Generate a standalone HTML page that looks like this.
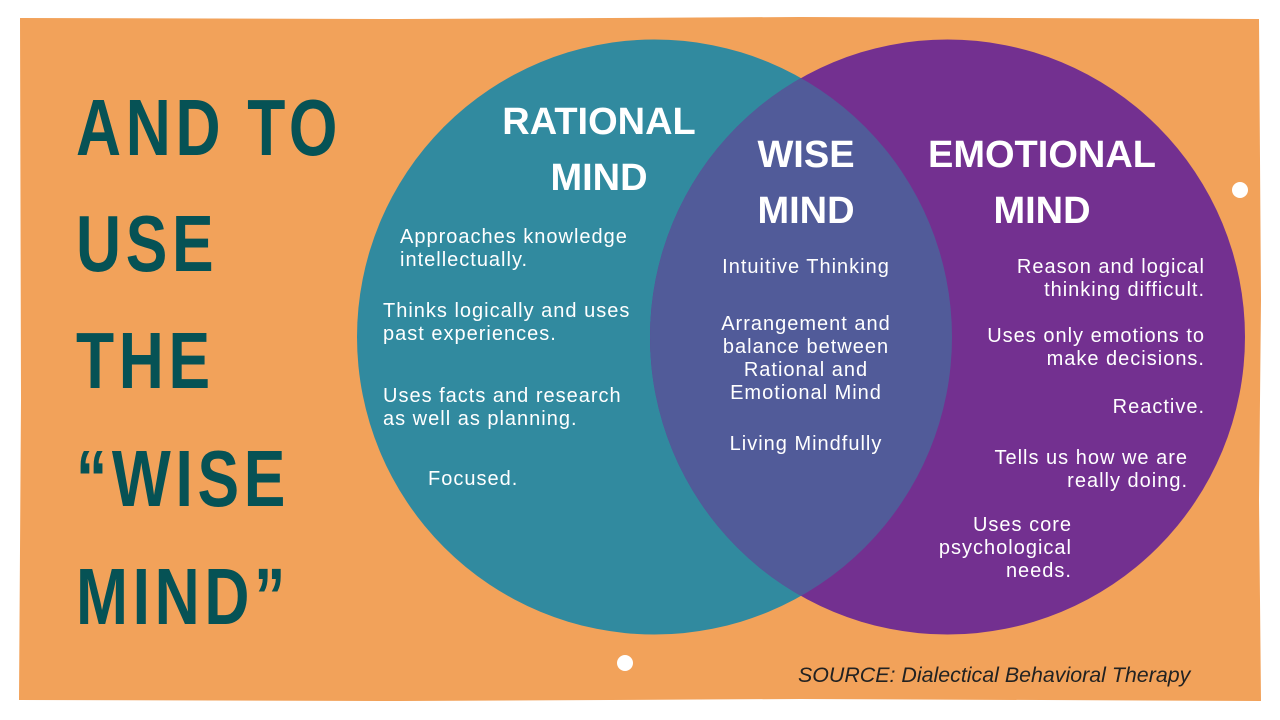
<!DOCTYPE html>
<html><head><style>
body{margin:0;width:1280px;height:720px;background:#fff;position:relative;overflow:hidden;font-family:"Liberation Sans",sans-serif}
.t{position:absolute;color:#fff;font-size:20px;line-height:23px;white-space:nowrap;letter-spacing:1px}
.h{position:absolute;color:#fff;font-weight:bold;font-size:38px;line-height:56px;text-align:center;white-space:nowrap}
.title{position:absolute;left:76px;color:#065255;font-weight:bold;font-size:80px;line-height:80px;transform-origin:left top;transform:scaleX(0.78);letter-spacing:6px}
</style></head><body>
<svg width="1280" height="720" style="position:absolute;left:0;top:0">
<path d="M20 18 L400 19 L800 17 L1259 19 L1261 300 L1259 500 L1261 701 L800 699 L400 701 L19 700 L21 400 Z" fill="#f2a25a"/>
<defs><clipPath id="c"><circle cx="654.5" cy="337" r="297.5"/></clipPath></defs>
<circle cx="654.5" cy="337" r="297.5" fill="#318a9f"/>
<circle cx="947.5" cy="337" r="297.5" fill="#733090"/>
<circle cx="947.5" cy="337" r="297.5" fill="#515b99" clip-path="url(#c)"/>
<circle cx="1240" cy="190" r="8" fill="#fff"/>
<circle cx="625" cy="663" r="8" fill="#fff"/>
</svg>
<div class="title" style="top:88px">AND TO</div>
<div class="title" style="top:204px">USE</div>
<div class="title" style="top:321px">THE</div>
<div class="title" style="top:439px">“WISE</div>
<div class="title" style="top:557px">MIND”</div>
<div class="h" style="left:499px;width:200px;top:94px">RATIONAL<br>MIND</div>
<div class="h" style="left:706px;width:200px;top:127px">WISE<br>MIND</div>
<div class="h" style="left:922px;width:240px;top:127px">EMOTIONAL<br>MIND</div>
<div class="t" style="left:400px;top:226px">Approaches knowledge<br>intellectually.</div>
<div class="t" style="left:383px;top:300px">Thinks logically and uses<br>past experiences.</div>
<div class="t" style="left:383px;top:385px">Uses facts and research<br>as well as planning.</div>
<div class="t" style="left:428px;top:468px">Focused.</div>
<div class="t" style="left:656px;width:300px;text-align:center;top:256px">Intuitive Thinking</div>
<div class="t" style="left:656px;width:300px;text-align:center;top:313px">Arrangement and<br>balance between<br>Rational and<br>Emotional Mind</div>
<div class="t" style="left:656px;width:300px;text-align:center;top:433px">Living Mindfully</div>
<div class="t" style="right:75px;text-align:right;top:256px">Reason and logical<br>thinking difficult.</div>
<div class="t" style="right:75px;text-align:right;top:325px">Uses only emotions to<br>make decisions.</div>
<div class="t" style="right:75px;text-align:right;top:396px">Reactive.</div>
<div class="t" style="right:92px;text-align:right;top:447px">Tells us how we are<br>really doing.</div>
<div class="t" style="right:208px;text-align:right;top:514px">Uses core<br>psychological<br>needs.</div>
<div style="position:absolute;left:798px;top:663px;font-size:21.4px;font-style:italic;color:#222;white-space:nowrap">SOURCE: Dialectical Behavioral Therapy</div>
</body></html>
